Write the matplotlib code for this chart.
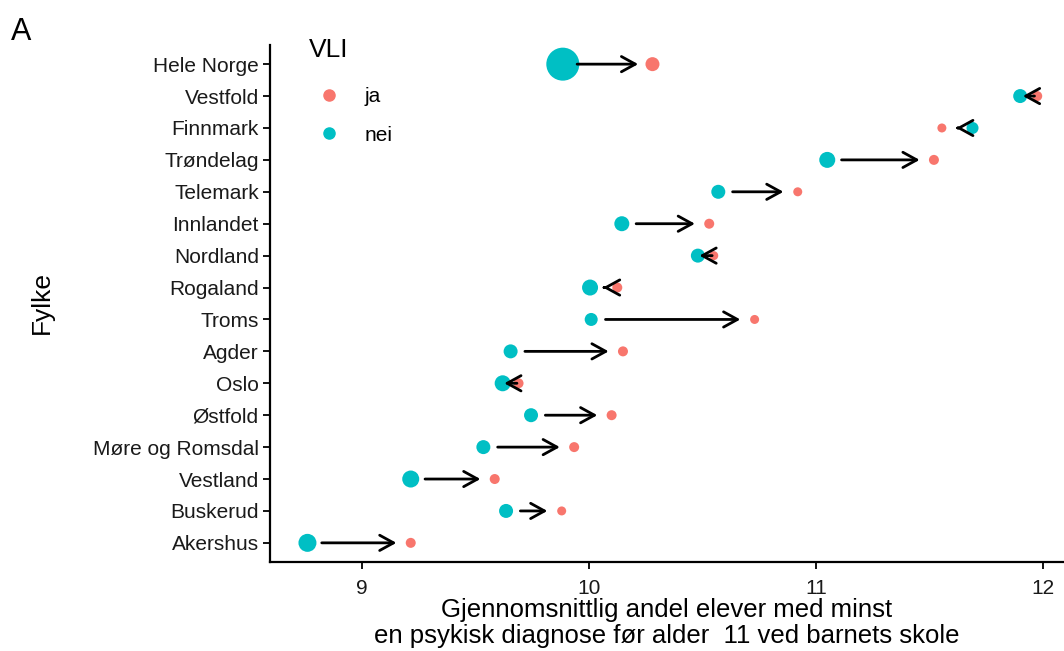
import matplotlib
matplotlib.use('Agg')
import matplotlib.pyplot as plt
from matplotlib.lines import Line2D
import numpy as np

plt.rcParams['font.family'] = ['Liberation Sans', 'DejaVu Sans']

# fylker, from top to bottom
fylker = ['Hele Norge', 'Vestfold', 'Finnmark', 'Trøndelag', 'Telemark',
          'Innlandet', 'Nordland', 'Rogaland', 'Troms', 'Agder', 'Oslo',
          'Østfold', 'Møre og Romsdal', 'Vestland', 'Buskerud', 'Akershus']
# mean share with at least one diagnosis, by VLI group
nei = [9.885, 11.90, 11.69, 11.05, 10.57, 10.145, 10.48, 10.005, 10.01,
       9.655, 9.62, 9.745, 9.535, 9.215, 9.635, 8.76]
ja = [10.28, 11.975, 11.555, 11.52, 10.92, 10.53, 10.55, 10.125, 10.73,
      10.15, 9.69, 10.10, 9.935, 9.585, 9.88, 9.215]
# relative size of the groups (point size)
n_nei = [16.5, 7, 6, 8, 7, 7.5, 7, 8, 6.5, 7, 8, 7, 7, 8.5, 7, 9]
n_ja = [7, 5, 4.5, 5, 4.5, 5, 4.5, 5, 4.5, 5, 5, 5, 5, 5, 4.5, 5]

col_ja = '#F8766D'
col_nei = '#00BFC4'

fig = plt.figure(figsize=(10.64, 6.51), dpi=100)
ax = fig.add_axes([270/1064, 89/651, 794/1064, 517/651])

y = np.arange(len(fylker), 0, -1)
px = 0.72  # points per pixel
ax.scatter(nei, y, s=(2*np.array(n_nei)*px)**2, color=col_nei, zorder=2, linewidths=0)
ax.scatter(ja, y, s=(2*np.array(n_ja)*px)**2, color=col_ja, zorder=2, linewidths=0)

# arrows from nei towards ja, shortened at both ends
d = 0.063
for a, b, yy in zip(nei, ja, y):
    sgn = np.sign(b - a)
    ax.annotate('', xy=(b - sgn*d, yy), xytext=(a + sgn*d, yy),
                arrowprops=dict(arrowstyle='->,head_length=1.0,head_width=0.55',
                                color='black', lw=2.0, shrinkA=0, shrinkB=0),
                zorder=3)

ax.set_xlim(8.595, 12.093)
ax.set_ylim(0.4, len(fylker) + 0.6)
ax.set_yticks(y)
ax.set_yticklabels(fylker)
ax.set_xticks([9, 10, 11, 12])
ax.tick_params(axis='both', labelsize=15, length=5, width=1.3, color='black',
               labelcolor='#1a1a1a')
ax.tick_params(axis='x', pad=7)
ax.tick_params(axis='y', pad=3)
for s in ['top', 'right']:
    ax.spines[s].set_visible(False)
for s in ['left', 'bottom']:
    ax.spines[s].set_linewidth(1.6)

ax.set_xlabel('Gjennomsnittlig andel elever med minst\nen psykisk diagnose før alder  11 ved barnets skole',
              fontsize=18.5, labelpad=0, linespacing=1.12)
fig.text(42/1064, 1 - 303/651, 'Fylke', rotation=90, ha='center', va='center', fontsize=19)
fig.text(11/1064, 1 - 40/651, 'A', fontsize=22)

handles = [Line2D([], [], marker='o', ls='', color=col_ja, markersize=8),
           Line2D([], [], marker='o', ls='', color=col_nei, markersize=8)]
leg = ax.legend(handles, ['ja', 'nei'], title='VLI', loc='upper left',
                bbox_to_anchor=(0.025, 1.05), frameon=False, fontsize=15,
                title_fontsize=19, handletextpad=0.7, labelspacing=0.95)
leg._legend_box.align = 'left'
leg._legend_box.sep = 18

fig.savefig('out.png', dpi=100)
